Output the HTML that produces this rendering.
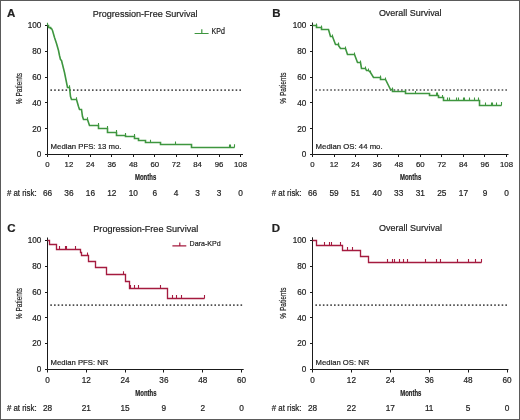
<!DOCTYPE html>
<html><head><meta charset="utf-8"><title>Kaplan-Meier curves</title>
<style>
html,body{margin:0;padding:0;background:#fff;}
body{width:520px;height:420px;overflow:hidden;position:relative;}
.frame{position:absolute;left:0;top:0;width:518px;height:418px;border:1px solid #5a5a5a;}
svg{position:absolute;left:0;top:0;will-change:transform;}
text{font-family:"Liberation Sans",sans-serif;fill:#222;stroke:#222;stroke-width:0.2px;}
</style></head>
<body>
<div class="frame"></div>
<svg width="520" height="420" viewBox="0 0 520 420">
<path d="M47.5 23V154.5H243" fill="none" stroke="#1a1a1a" stroke-width="1"/>
<text x="41.4" y="157" font-size="8.2" text-anchor="end">0</text>
<text x="41.4" y="132" font-size="8.2" text-anchor="end">20</text>
<text x="41.4" y="106" font-size="8.2" text-anchor="end">40</text>
<text x="41.4" y="80" font-size="8.2" text-anchor="end">60</text>
<text x="41.4" y="54" font-size="8.2" text-anchor="end">80</text>
<text x="41.4" y="28" font-size="8.2" text-anchor="end">100</text>
<text x="47.5" y="167" font-size="7.8" text-anchor="middle">0</text>
<text x="68.94" y="167" font-size="7.8" text-anchor="middle">12</text>
<text x="90.39" y="167" font-size="7.8" text-anchor="middle">24</text>
<text x="111.83" y="167" font-size="7.8" text-anchor="middle">36</text>
<text x="133.28" y="167" font-size="7.8" text-anchor="middle">48</text>
<text x="154.72" y="167" font-size="7.8" text-anchor="middle">60</text>
<text x="176.17" y="167" font-size="7.8" text-anchor="middle">72</text>
<text x="197.61" y="167" font-size="7.8" text-anchor="middle">84</text>
<text x="219.06" y="167" font-size="7.8" text-anchor="middle">96</text>
<text x="240.5" y="167" font-size="7.8" text-anchor="middle">108</text>
<path d="M45 154.5H47.5M45 128.5H47.5M45 102.5H47.5M45 77.5H47.5M45 51.5H47.5M45 25.5H47.5M47.5 154.5V157M68.5 154.5V157M90.5 154.5V157M111.5 154.5V157M133.5 154.5V157M154.5 154.5V157M176.5 154.5V157M197.5 154.5V157M219.5 154.5V157M240.5 154.5V157" stroke="#1a1a1a" stroke-width="1"/>
<path d="M50.4 89.3h1.6v1.6h-1.6zM54.18 89.3h1.6v1.6h-1.6zM57.96 89.3h1.6v1.6h-1.6zM61.74 89.3h1.6v1.6h-1.6zM65.52 89.3h1.6v1.6h-1.6zM69.3 89.3h1.6v1.6h-1.6zM73.08 89.3h1.6v1.6h-1.6zM76.86 89.3h1.6v1.6h-1.6zM80.64 89.3h1.6v1.6h-1.6zM84.42 89.3h1.6v1.6h-1.6zM88.2 89.3h1.6v1.6h-1.6zM91.98 89.3h1.6v1.6h-1.6zM95.76 89.3h1.6v1.6h-1.6zM99.54 89.3h1.6v1.6h-1.6zM103.32 89.3h1.6v1.6h-1.6zM107.1 89.3h1.6v1.6h-1.6zM110.88 89.3h1.6v1.6h-1.6zM114.66 89.3h1.6v1.6h-1.6zM118.44 89.3h1.6v1.6h-1.6zM122.22 89.3h1.6v1.6h-1.6zM126 89.3h1.6v1.6h-1.6zM129.78 89.3h1.6v1.6h-1.6zM133.56 89.3h1.6v1.6h-1.6zM137.34 89.3h1.6v1.6h-1.6zM141.12 89.3h1.6v1.6h-1.6zM144.9 89.3h1.6v1.6h-1.6zM148.68 89.3h1.6v1.6h-1.6zM152.46 89.3h1.6v1.6h-1.6zM156.24 89.3h1.6v1.6h-1.6zM160.02 89.3h1.6v1.6h-1.6zM163.8 89.3h1.6v1.6h-1.6zM167.58 89.3h1.6v1.6h-1.6zM171.36 89.3h1.6v1.6h-1.6zM175.14 89.3h1.6v1.6h-1.6zM178.92 89.3h1.6v1.6h-1.6zM182.7 89.3h1.6v1.6h-1.6zM186.48 89.3h1.6v1.6h-1.6zM190.26 89.3h1.6v1.6h-1.6zM194.04 89.3h1.6v1.6h-1.6zM197.82 89.3h1.6v1.6h-1.6zM201.6 89.3h1.6v1.6h-1.6zM205.38 89.3h1.6v1.6h-1.6zM209.16 89.3h1.6v1.6h-1.6zM212.94 89.3h1.6v1.6h-1.6zM216.72 89.3h1.6v1.6h-1.6zM220.5 89.3h1.6v1.6h-1.6zM224.28 89.3h1.6v1.6h-1.6zM228.06 89.3h1.6v1.6h-1.6zM231.84 89.3h1.6v1.6h-1.6zM235.62 89.3h1.6v1.6h-1.6zM239.4 89.3h1.6v1.6h-1.6z" fill="#505050"/>
<text x="47.5" y="196" font-size="8.3" text-anchor="middle">66</text>
<text x="68.94" y="196" font-size="8.3" text-anchor="middle">36</text>
<text x="90.39" y="196" font-size="8.3" text-anchor="middle">16</text>
<text x="111.83" y="196" font-size="8.3" text-anchor="middle">12</text>
<text x="133.28" y="196" font-size="8.3" text-anchor="middle">10</text>
<text x="154.72" y="196" font-size="8.3" text-anchor="middle">6</text>
<text x="176.17" y="196" font-size="8.3" text-anchor="middle">4</text>
<text x="197.61" y="196" font-size="8.3" text-anchor="middle">3</text>
<text x="219.06" y="196" font-size="8.3" text-anchor="middle">3</text>
<text x="240.5" y="196" font-size="8.3" text-anchor="middle">0</text>
<text x="6.9" y="196" font-size="8.3" textLength="29.8" lengthAdjust="spacingAndGlyphs"># at risk:</text>
<text x="135" y="180" font-size="9.2" font-weight="bold" textLength="21.2" lengthAdjust="spacingAndGlyphs">Months</text>
<text x="0" y="0" font-size="9.8" text-anchor="middle" textLength="31.2" lengthAdjust="spacingAndGlyphs" transform="translate(22 88.6) rotate(-90)">% Patients</text>
<text x="50.6" y="149" font-size="8.0" textLength="70.8" lengthAdjust="spacingAndGlyphs">Median PFS: 13 mo.</text>
<text x="92.7" y="17" font-size="9.6" textLength="104.8" lengthAdjust="spacingAndGlyphs">Progression-Free Survival</text>
<text x="7" y="17" font-size="11.5" font-weight="bold">A</text>
<path d="M47.5 25.5 L48.5 25.5 L48.5 27.5 L50.5 27.5 L50.5 28.5 L51.5 28.5 L52.5 30.5 L54.5 37.5 L56.5 43.5 L58.5 50.5 L59.5 55.5 L60.5 59.5 L61.5 60.5 L64.5 72.5 L67.5 87.5 L69.5 87.5 L70.5 96.5 L71.5 99.5 L76.5 99.5 L78.5 106.5 L79.5 109.5 L81.5 109.5 L82.5 116.5 L83.5 119.5 L87.5 119.5 L87.5 119.5 L89.5 125.5 L98.5 125.5 L98.5 128.5 L107.5 128.5 L107.5 132.5 L116.5 132.5 L116.5 135.5 L125.5 135.5 L125.5 136.5 L134.5 136.5 L134.5 138.5 L138.5 138.5 L138.5 140.5 L145.5 140.5 L145.5 142.5 L160.5 142.5 L160.5 144.5 L191.5 144.5 L191.5 147.5 L234.5 147.5" fill="none" stroke="#3e963f" stroke-width="1.6"/>
<path d="M47.5 25.5v-2.8M69.5 87.5v-2.2M76.5 99.5v-2.2M87.5 119.5v-2.3M98.5 125.5v-2.5M107.5 128.5v-2.5M116.5 132.5v-2.5M125.5 135.5v-2.5M134.5 136.5v-2.5M150.5 142.5v-2.8M175.5 144.5v-3M229.5 147.5v-3M230.5 147.5v-3M234.5 147.5v-3.3" fill="none" stroke="#3e963f" stroke-width="1.1"/>
<path d="M312.5 22.5V154.5H508.5" fill="none" stroke="#1a1a1a" stroke-width="1"/>
<text x="306.4" y="157" font-size="8.2" text-anchor="end">0</text>
<text x="306.4" y="132" font-size="8.2" text-anchor="end">20</text>
<text x="306.4" y="106" font-size="8.2" text-anchor="end">40</text>
<text x="306.4" y="80" font-size="8.2" text-anchor="end">60</text>
<text x="306.4" y="54" font-size="8.2" text-anchor="end">80</text>
<text x="306.4" y="28" font-size="8.2" text-anchor="end">100</text>
<text x="312.5" y="167" font-size="7.8" text-anchor="middle">0</text>
<text x="334.06" y="167" font-size="7.8" text-anchor="middle">12</text>
<text x="355.61" y="167" font-size="7.8" text-anchor="middle">24</text>
<text x="377.17" y="167" font-size="7.8" text-anchor="middle">36</text>
<text x="398.72" y="167" font-size="7.8" text-anchor="middle">48</text>
<text x="420.28" y="167" font-size="7.8" text-anchor="middle">60</text>
<text x="441.83" y="167" font-size="7.8" text-anchor="middle">72</text>
<text x="463.39" y="167" font-size="7.8" text-anchor="middle">84</text>
<text x="484.94" y="167" font-size="7.8" text-anchor="middle">96</text>
<text x="506.5" y="167" font-size="7.8" text-anchor="middle">108</text>
<path d="M310 154.5H312.5M310 128.5H312.5M310 102.5H312.5M310 77.5H312.5M310 51.5H312.5M310 25.5H312.5M312.5 154.5V157M334.5 154.5V157M355.5 154.5V157M377.5 154.5V157M398.5 154.5V157M420.5 154.5V157M441.5 154.5V157M463.5 154.5V157M484.5 154.5V157M506.5 154.5V157" stroke="#1a1a1a" stroke-width="1"/>
<path d="M315.4 89.2h1.6v1.6h-1.6zM319.12 89.2h1.6v1.6h-1.6zM322.85 89.2h1.6v1.6h-1.6zM326.57 89.2h1.6v1.6h-1.6zM330.3 89.2h1.6v1.6h-1.6zM334.02 89.2h1.6v1.6h-1.6zM337.75 89.2h1.6v1.6h-1.6zM341.47 89.2h1.6v1.6h-1.6zM345.2 89.2h1.6v1.6h-1.6zM348.92 89.2h1.6v1.6h-1.6zM352.65 89.2h1.6v1.6h-1.6zM356.38 89.2h1.6v1.6h-1.6zM360.1 89.2h1.6v1.6h-1.6zM363.82 89.2h1.6v1.6h-1.6zM367.55 89.2h1.6v1.6h-1.6zM371.27 89.2h1.6v1.6h-1.6zM375 89.2h1.6v1.6h-1.6zM378.72 89.2h1.6v1.6h-1.6zM382.45 89.2h1.6v1.6h-1.6zM386.18 89.2h1.6v1.6h-1.6zM389.9 89.2h1.6v1.6h-1.6zM393.62 89.2h1.6v1.6h-1.6zM397.35 89.2h1.6v1.6h-1.6zM401.07 89.2h1.6v1.6h-1.6zM404.8 89.2h1.6v1.6h-1.6zM408.52 89.2h1.6v1.6h-1.6zM412.25 89.2h1.6v1.6h-1.6zM415.97 89.2h1.6v1.6h-1.6zM419.7 89.2h1.6v1.6h-1.6zM423.43 89.2h1.6v1.6h-1.6zM427.15 89.2h1.6v1.6h-1.6zM430.88 89.2h1.6v1.6h-1.6zM434.6 89.2h1.6v1.6h-1.6zM438.32 89.2h1.6v1.6h-1.6zM442.05 89.2h1.6v1.6h-1.6zM445.77 89.2h1.6v1.6h-1.6zM449.5 89.2h1.6v1.6h-1.6zM453.22 89.2h1.6v1.6h-1.6zM456.95 89.2h1.6v1.6h-1.6zM460.68 89.2h1.6v1.6h-1.6zM464.4 89.2h1.6v1.6h-1.6zM468.12 89.2h1.6v1.6h-1.6zM471.85 89.2h1.6v1.6h-1.6zM475.57 89.2h1.6v1.6h-1.6zM479.3 89.2h1.6v1.6h-1.6zM483.02 89.2h1.6v1.6h-1.6zM486.75 89.2h1.6v1.6h-1.6zM490.47 89.2h1.6v1.6h-1.6zM494.2 89.2h1.6v1.6h-1.6zM497.93 89.2h1.6v1.6h-1.6zM501.65 89.2h1.6v1.6h-1.6zM505.37 89.2h1.6v1.6h-1.6z" fill="#505050"/>
<text x="312.5" y="196" font-size="8.3" text-anchor="middle">66</text>
<text x="334.06" y="196" font-size="8.3" text-anchor="middle">59</text>
<text x="355.61" y="196" font-size="8.3" text-anchor="middle">51</text>
<text x="377.17" y="196" font-size="8.3" text-anchor="middle">40</text>
<text x="398.72" y="196" font-size="8.3" text-anchor="middle">33</text>
<text x="420.28" y="196" font-size="8.3" text-anchor="middle">31</text>
<text x="441.83" y="196" font-size="8.3" text-anchor="middle">25</text>
<text x="463.39" y="196" font-size="8.3" text-anchor="middle">17</text>
<text x="484.94" y="196" font-size="8.3" text-anchor="middle">9</text>
<text x="506.5" y="196" font-size="8.3" text-anchor="middle">0</text>
<text x="271.7" y="196" font-size="8.3" textLength="29.8" lengthAdjust="spacingAndGlyphs"># at risk:</text>
<text x="400" y="180" font-size="9.2" font-weight="bold" textLength="21.2" lengthAdjust="spacingAndGlyphs">Months</text>
<text x="0" y="0" font-size="9.8" text-anchor="middle" textLength="31.2" lengthAdjust="spacingAndGlyphs" transform="translate(285.7 88.1) rotate(-90)">% Patients</text>
<text x="315.6" y="149" font-size="8.0" textLength="67" lengthAdjust="spacingAndGlyphs">Median OS: 44 mo.</text>
<text x="378.9" y="16" font-size="9.6" textLength="62.7" lengthAdjust="spacingAndGlyphs">Overall Survival</text>
<text x="272.2" y="17" font-size="11.5" font-weight="bold">B</text>
<path d="M312.5 25.5 L316.5 25.5 L316.5 27.5 L321.5 27.5 L321.5 29.5 L328.5 29.5 L330.5 36.5 L332.5 36.5 L335.5 44.5 L338.5 44.5 L338.5 45.5 L340.5 48.5 L345.5 48.5 L347.5 54.5 L354.5 54.5 L357.5 62.5 L360.5 62.5 L361.5 68.5 L365.5 68.5 L366.5 70.5 L368.5 70.5 L370.5 72.5 L373.5 77.5 L380.5 77.5 L380.5 79.5 L385.5 79.5 L388.5 85.5 L390.5 89.5 L392.5 89.5 L392.5 91.5 L405.5 91.5 L405.5 93.5 L429.5 93.5 L429.5 95.5 L438.5 95.5 L438.5 97.5 L443.5 97.5 L443.5 100.5 L479.5 100.5 L479.5 105.5 L501.5 105.5" fill="none" stroke="#3e963f" stroke-width="1.6"/>
<path d="M316.5 25.5v-2M321.5 27.5v-2M332.5 36.5v-2M338.5 44.5v-2M345.5 48.5v-2M354.5 54.5v-2M360.5 62.5v-2M365.5 68.5v-2M368.5 70.5v-2M370.5 72.5v-2M380.5 77.5v-2M385.5 79.5v-2M392.5 89.5v-2M405.5 91.5v-2M415.5 93.5v-2.6M436.5 95.5v-3M437.5 95.5v-3M442.5 97.5v-2.6M447.5 100.5v-3M449.5 100.5v-3M456.5 100.5v-3M458.5 100.5v-3M463.5 100.5v-3M464.5 100.5v-3M469.5 100.5v-3M474.5 100.5v-3M478.5 100.5v-3M485.5 105.5v-3M491.5 105.5v-3M492.5 105.5v-3M496.5 105.5v-3M501.5 105.5v-3.4" fill="none" stroke="#3e963f" stroke-width="1.1"/>
<path d="M47.5 237.5V369.5H243.7" fill="none" stroke="#1a1a1a" stroke-width="1"/>
<text x="41.4" y="372" font-size="8.2" text-anchor="end">0</text>
<text x="41.4" y="346" font-size="8.2" text-anchor="end">20</text>
<text x="41.4" y="321" font-size="8.2" text-anchor="end">40</text>
<text x="41.4" y="295" font-size="8.2" text-anchor="end">60</text>
<text x="41.4" y="269" font-size="8.2" text-anchor="end">80</text>
<text x="41.4" y="243" font-size="8.2" text-anchor="end">100</text>
<text x="47.5" y="383" font-size="8.2" text-anchor="middle">0</text>
<text x="86.3" y="383" font-size="8.2" text-anchor="middle">12</text>
<text x="125.1" y="383" font-size="8.2" text-anchor="middle">24</text>
<text x="163.9" y="383" font-size="8.2" text-anchor="middle">36</text>
<text x="202.7" y="383" font-size="8.2" text-anchor="middle">48</text>
<text x="241.5" y="383" font-size="8.2" text-anchor="middle">60</text>
<path d="M45 369.5H47.5M45 343.5H47.5M45 317.5H47.5M45 292.5H47.5M45 266.5H47.5M45 240.5H47.5M47.5 369.5V372.5M86.5 369.5V372.5M125.5 369.5V372.5M163.5 369.5V372.5M202.5 369.5V372.5M241.5 369.5V372.5" stroke="#1a1a1a" stroke-width="1"/>
<path d="M50.3 304.3h1.6v1.6h-1.6zM54.03 304.3h1.6v1.6h-1.6zM57.76 304.3h1.6v1.6h-1.6zM61.49 304.3h1.6v1.6h-1.6zM65.22 304.3h1.6v1.6h-1.6zM68.95 304.3h1.6v1.6h-1.6zM72.68 304.3h1.6v1.6h-1.6zM76.41 304.3h1.6v1.6h-1.6zM80.14 304.3h1.6v1.6h-1.6zM83.87 304.3h1.6v1.6h-1.6zM87.6 304.3h1.6v1.6h-1.6zM91.33 304.3h1.6v1.6h-1.6zM95.06 304.3h1.6v1.6h-1.6zM98.79 304.3h1.6v1.6h-1.6zM102.52 304.3h1.6v1.6h-1.6zM106.25 304.3h1.6v1.6h-1.6zM109.98 304.3h1.6v1.6h-1.6zM113.71 304.3h1.6v1.6h-1.6zM117.44 304.3h1.6v1.6h-1.6zM121.17 304.3h1.6v1.6h-1.6zM124.9 304.3h1.6v1.6h-1.6zM128.63 304.3h1.6v1.6h-1.6zM132.36 304.3h1.6v1.6h-1.6zM136.09 304.3h1.6v1.6h-1.6zM139.82 304.3h1.6v1.6h-1.6zM143.55 304.3h1.6v1.6h-1.6zM147.28 304.3h1.6v1.6h-1.6zM151.01 304.3h1.6v1.6h-1.6zM154.74 304.3h1.6v1.6h-1.6zM158.47 304.3h1.6v1.6h-1.6zM162.2 304.3h1.6v1.6h-1.6zM165.93 304.3h1.6v1.6h-1.6zM169.66 304.3h1.6v1.6h-1.6zM173.39 304.3h1.6v1.6h-1.6zM177.12 304.3h1.6v1.6h-1.6zM180.85 304.3h1.6v1.6h-1.6zM184.58 304.3h1.6v1.6h-1.6zM188.31 304.3h1.6v1.6h-1.6zM192.04 304.3h1.6v1.6h-1.6zM195.77 304.3h1.6v1.6h-1.6zM199.5 304.3h1.6v1.6h-1.6zM203.23 304.3h1.6v1.6h-1.6zM206.96 304.3h1.6v1.6h-1.6zM210.69 304.3h1.6v1.6h-1.6zM214.42 304.3h1.6v1.6h-1.6zM218.15 304.3h1.6v1.6h-1.6zM221.88 304.3h1.6v1.6h-1.6zM225.61 304.3h1.6v1.6h-1.6zM229.34 304.3h1.6v1.6h-1.6zM233.07 304.3h1.6v1.6h-1.6zM236.8 304.3h1.6v1.6h-1.6zM240.53 304.3h1.6v1.6h-1.6z" fill="#505050"/>
<text x="47.5" y="411" font-size="8.3" text-anchor="middle">28</text>
<text x="86.3" y="411" font-size="8.3" text-anchor="middle">21</text>
<text x="125.1" y="411" font-size="8.3" text-anchor="middle">15</text>
<text x="163.9" y="411" font-size="8.3" text-anchor="middle">9</text>
<text x="202.7" y="411" font-size="8.3" text-anchor="middle">2</text>
<text x="241.5" y="411" font-size="8.3" text-anchor="middle">0</text>
<text x="6.9" y="411" font-size="8.3" textLength="29.8" lengthAdjust="spacingAndGlyphs"># at risk:</text>
<text x="135.3" y="395.5" font-size="9.2" font-weight="bold" textLength="21.2" lengthAdjust="spacingAndGlyphs">Months</text>
<text x="0" y="0" font-size="9.8" text-anchor="middle" textLength="31.2" lengthAdjust="spacingAndGlyphs" transform="translate(22 303.6) rotate(-90)">% Patients</text>
<text x="50.6" y="364.5" font-size="8.0" textLength="57.7" lengthAdjust="spacingAndGlyphs">Median PFS: NR</text>
<text x="93.3" y="232" font-size="9.6" textLength="105" lengthAdjust="spacingAndGlyphs">Progression-Free Survival</text>
<text x="7.2" y="232" font-size="11.5" font-weight="bold">C</text>
<path d="M47.5 240.5 L49.5 240.5 L49.5 244.5 L56.5 244.5 L56.5 249.5 L80.5 249.5 L80.5 252.5 L81.5 252.5 L81.5 255.5 L88.5 255.5 L88.5 261.5 L95.5 261.5 L95.5 267.5 L106.5 267.5 L106.5 274.5 L125.5 274.5 L125.5 281.5 L129.5 281.5 L129.5 288.5 L167.5 288.5 L167.5 298.5 L204.5 298.5" fill="none" stroke="#a51b3f" stroke-width="1.35"/>
<path d="M59.5 249.5v-3.5M65.5 249.5v-3.5M66.5 249.5v-3.5M75.5 249.5v-3.5M87.5 255.5v-3M123.5 274.5v-3.3M130.5 288.5v-3.5M134.5 288.5v-3.5M138.5 288.5v-3.5M160.5 288.5v-3.5M172.5 298.5v-3.5M176.5 298.5v-3.5M181.5 298.5v-3.5M204.5 298.5v-3.5" fill="none" stroke="#a51b3f" stroke-width="1.1"/>
<path d="M312.5 237.3V369.5H508.5" fill="none" stroke="#1a1a1a" stroke-width="1"/>
<text x="306.4" y="372" font-size="8.2" text-anchor="end">0</text>
<text x="306.4" y="346" font-size="8.2" text-anchor="end">20</text>
<text x="306.4" y="321" font-size="8.2" text-anchor="end">40</text>
<text x="306.4" y="295" font-size="8.2" text-anchor="end">60</text>
<text x="306.4" y="269" font-size="8.2" text-anchor="end">80</text>
<text x="306.4" y="243" font-size="8.2" text-anchor="end">100</text>
<text x="312.5" y="383" font-size="8.2" text-anchor="middle">0</text>
<text x="351.4" y="383" font-size="8.2" text-anchor="middle">12</text>
<text x="390.3" y="383" font-size="8.2" text-anchor="middle">24</text>
<text x="429.2" y="383" font-size="8.2" text-anchor="middle">36</text>
<text x="468.1" y="383" font-size="8.2" text-anchor="middle">48</text>
<text x="507" y="383" font-size="8.2" text-anchor="middle">60</text>
<path d="M310 369.5H312.5M310 343.5H312.5M310 317.5H312.5M310 292.5H312.5M310 266.5H312.5M310 240.5H312.5M312.5 369.5V372.5M351.5 369.5V372.5M390.5 369.5V372.5M429.5 369.5V372.5M468.5 369.5V372.5M507.5 369.5V372.5" stroke="#1a1a1a" stroke-width="1"/>
<path d="M315.4 304.3h1.6v1.6h-1.6zM319.12 304.3h1.6v1.6h-1.6zM322.85 304.3h1.6v1.6h-1.6zM326.57 304.3h1.6v1.6h-1.6zM330.3 304.3h1.6v1.6h-1.6zM334.02 304.3h1.6v1.6h-1.6zM337.75 304.3h1.6v1.6h-1.6zM341.47 304.3h1.6v1.6h-1.6zM345.2 304.3h1.6v1.6h-1.6zM348.92 304.3h1.6v1.6h-1.6zM352.65 304.3h1.6v1.6h-1.6zM356.38 304.3h1.6v1.6h-1.6zM360.1 304.3h1.6v1.6h-1.6zM363.82 304.3h1.6v1.6h-1.6zM367.55 304.3h1.6v1.6h-1.6zM371.27 304.3h1.6v1.6h-1.6zM375 304.3h1.6v1.6h-1.6zM378.72 304.3h1.6v1.6h-1.6zM382.45 304.3h1.6v1.6h-1.6zM386.18 304.3h1.6v1.6h-1.6zM389.9 304.3h1.6v1.6h-1.6zM393.62 304.3h1.6v1.6h-1.6zM397.35 304.3h1.6v1.6h-1.6zM401.07 304.3h1.6v1.6h-1.6zM404.8 304.3h1.6v1.6h-1.6zM408.52 304.3h1.6v1.6h-1.6zM412.25 304.3h1.6v1.6h-1.6zM415.97 304.3h1.6v1.6h-1.6zM419.7 304.3h1.6v1.6h-1.6zM423.43 304.3h1.6v1.6h-1.6zM427.15 304.3h1.6v1.6h-1.6zM430.88 304.3h1.6v1.6h-1.6zM434.6 304.3h1.6v1.6h-1.6zM438.32 304.3h1.6v1.6h-1.6zM442.05 304.3h1.6v1.6h-1.6zM445.77 304.3h1.6v1.6h-1.6zM449.5 304.3h1.6v1.6h-1.6zM453.22 304.3h1.6v1.6h-1.6zM456.95 304.3h1.6v1.6h-1.6zM460.68 304.3h1.6v1.6h-1.6zM464.4 304.3h1.6v1.6h-1.6zM468.12 304.3h1.6v1.6h-1.6zM471.85 304.3h1.6v1.6h-1.6zM475.57 304.3h1.6v1.6h-1.6zM479.3 304.3h1.6v1.6h-1.6zM483.02 304.3h1.6v1.6h-1.6zM486.75 304.3h1.6v1.6h-1.6zM490.47 304.3h1.6v1.6h-1.6zM494.2 304.3h1.6v1.6h-1.6zM497.93 304.3h1.6v1.6h-1.6zM501.65 304.3h1.6v1.6h-1.6zM505.37 304.3h1.6v1.6h-1.6z" fill="#505050"/>
<text x="312.5" y="411" font-size="8.3" text-anchor="middle">28</text>
<text x="351.4" y="411" font-size="8.3" text-anchor="middle">22</text>
<text x="390.3" y="411" font-size="8.3" text-anchor="middle">17</text>
<text x="429.2" y="411" font-size="8.3" text-anchor="middle">11</text>
<text x="468.1" y="411" font-size="8.3" text-anchor="middle">5</text>
<text x="507" y="411" font-size="8.3" text-anchor="middle">0</text>
<text x="271.7" y="411" font-size="8.3" textLength="29.8" lengthAdjust="spacingAndGlyphs"># at risk:</text>
<text x="400.2" y="395.5" font-size="9.2" font-weight="bold" textLength="21.2" lengthAdjust="spacingAndGlyphs">Months</text>
<text x="0" y="0" font-size="9.8" text-anchor="middle" textLength="31.2" lengthAdjust="spacingAndGlyphs" transform="translate(285.7 303.1) rotate(-90)">% Patients</text>
<text x="315.6" y="364.5" font-size="8.0" textLength="53.7" lengthAdjust="spacingAndGlyphs">Median OS: NR</text>
<text x="379" y="231" font-size="9.6" textLength="63" lengthAdjust="spacingAndGlyphs">Overall Survival</text>
<text x="271.8" y="232" font-size="11.5" font-weight="bold">D</text>
<path d="M312.5 240.5 L316.5 240.5 L316.5 245.5 L342.5 245.5 L342.5 250.5 L360.5 250.5 L360.5 256.5 L368.5 256.5 L368.5 262.5 L481.5 262.5" fill="none" stroke="#a51b3f" stroke-width="1.35"/>
<path d="M324.5 245.5v-3.5M329.5 245.5v-3.5M331.5 245.5v-3.5M340.5 245.5v-3.5M347.5 250.5v-3.5M352.5 250.5v-3.5M387.5 262.5v-3.5M387.5 262.5v-3.5M392.5 262.5v-3.5M394.5 262.5v-3.5M399.5 262.5v-3.5M403.5 262.5v-3.5M407.5 262.5v-3.5M425.5 262.5v-3.5M436.5 262.5v-3.5M440.5 262.5v-3.5M457.5 262.5v-3.5M468.5 262.5v-3.5M475.5 262.5v-3.5M481.5 262.5v-3.5" fill="none" stroke="#a51b3f" stroke-width="1.1"/>
<path d="M194.6 33.5H208.6M201.8 33.5V29.2" fill="none" stroke="#3e963f" stroke-width="1.2"/>
<text x="211.6" y="34" font-size="8.2" textLength="13.3" lengthAdjust="spacingAndGlyphs">KPd</text>
<path d="M172.4 245.8H186.3M179.8 245.8V242.4" fill="none" stroke="#a51b3f" stroke-width="1.2"/>
<text x="189.6" y="246" font-size="7.6" textLength="31" lengthAdjust="spacingAndGlyphs">Dara-KPd</text>
</svg>
</body></html>
